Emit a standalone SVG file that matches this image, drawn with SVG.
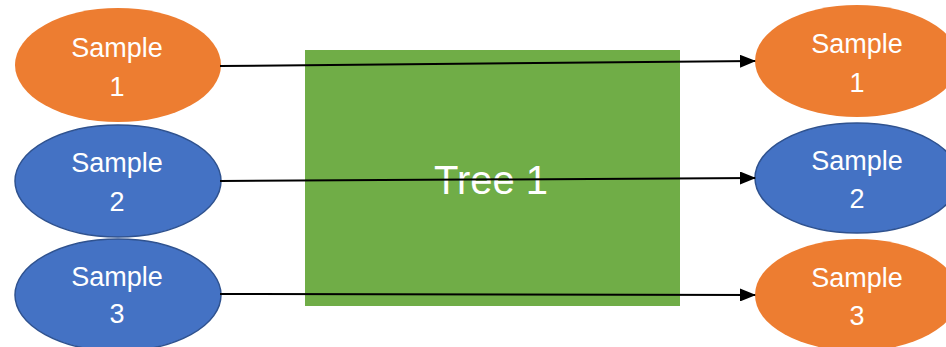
<svg xmlns="http://www.w3.org/2000/svg" width="946" height="347" viewBox="0 0 946 347">
<defs>
<style>
.or{fill:#ED7D31;}
.bl{fill:#4472C4;stroke:#2F528F;stroke-width:1.5;}
.t{fill:#FFFFFF;font-family:"Liberation Sans",Arial,sans-serif;font-size:27px;text-anchor:middle;}
.big{font-size:40px;}
.c{stroke:#000;stroke-width:2;fill:none;marker-end:url(#ah);}
</style>
<marker id="ah" markerWidth="8" markerHeight="6.5" refX="7.5" refY="3.25" orient="auto" markerUnits="strokeWidth">
<path d="M0,0 L8,3.25 L0,6.5 Z" fill="#000"/>
</marker>
</defs>
<rect width="946" height="347" fill="#FFFFFF"/>
<g id="tree1">
<rect x="305" y="50" width="375" height="256" fill="#70AD47"/>
<text class="t big" x="491" y="194">Tree 1</text>
</g>
<g id="in1">
<ellipse class="or" cx="118" cy="65" rx="103" ry="57"/>
<text class="t" x="117" y="57">Sample</text>
<text class="t" x="117" y="96">1</text>
</g>
<g id="in2">
<ellipse class="bl" cx="118" cy="181" rx="103" ry="56"/>
<text class="t" x="117" y="172">Sample</text>
<text class="t" x="117" y="211">2</text>
</g>
<g id="in3">
<ellipse class="bl" cx="118" cy="295" rx="103" ry="56"/>
<text class="t" x="117" y="286">Sample</text>
<text class="t" x="117" y="323">3</text>
</g>
<g id="out1">
<ellipse class="or" cx="857" cy="61" rx="102" ry="56"/>
<text class="t" x="857" y="53">Sample</text>
<text class="t" x="857" y="92">1</text>
</g>
<g id="out2">
<ellipse class="bl" cx="857" cy="178" rx="102" ry="55"/>
<text class="t" x="857" y="170">Sample</text>
<text class="t" x="857" y="208">2</text>
</g>
<g id="out3">
<ellipse class="or" cx="857" cy="295" rx="102" ry="56"/>
<text class="t" x="857" y="287">Sample</text>
<text class="t" x="857" y="325">3</text>
</g>
<g id="connectors">
<line class="c" x1="220" y1="66" x2="755" y2="61"/>
<line class="c" x1="220" y1="181" x2="755" y2="178"/>
<line class="c" x1="220" y1="294" x2="755" y2="295"/>
</g>
</svg>
